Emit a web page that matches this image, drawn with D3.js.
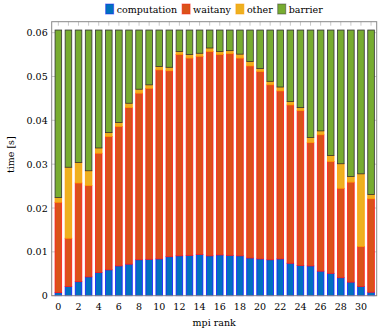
<!DOCTYPE html>
<html>
<head>
<meta charset="utf-8">
<script src="https://cdn.jsdelivr.net/npm/d3@7"></script>
<style>
  body { margin: 0; background: #fff; }
  svg text { font-family: "DejaVu Serif", serif; }
</style>
</head>
<body>
<svg id="chart" width="379" height="332"></svg>
<script>
// values, one entry per mpi rank
var ranks = d3.range(0, 32);
var computation = [0.0007, 0.0021, 0.0032, 0.0043, 0.0053, 0.0059, 0.0068, 0.0072, 0.0082, 0.0083,
  0.0084, 0.0089, 0.0091, 0.0092, 0.0094, 0.0091, 0.0093, 0.0092, 0.0091, 0.0086,
  0.0084, 0.0082, 0.0084, 0.0074, 0.0069, 0.0068, 0.0056, 0.0051, 0.0041, 0.0031, 0.0021, 0.0008];
// cumulative tops as read, converted to segment sizes below
var waitanyTop = [0.0213, 0.0131, 0.0257, 0.0251, 0.0325, 0.0363, 0.0386, 0.0429, 0.0462, 0.0473,
  0.0515, 0.0513, 0.0550, 0.0542, 0.0546, 0.0557, 0.0550, 0.0552, 0.0542, 0.0524,
  0.0511, 0.0481, 0.0467, 0.0435, 0.0422, 0.0349, 0.0367, 0.0306, 0.0245, 0.0259, 0.0112, 0.0221];
var otherTop = [0.0224, 0.0293, 0.0304, 0.0285, 0.0337, 0.0372, 0.0395, 0.0439, 0.0471, 0.0481,
  0.0523, 0.0521, 0.0557, 0.0550, 0.0553, 0.0565, 0.0557, 0.0559, 0.0551, 0.0534,
  0.0518, 0.0489, 0.0476, 0.0443, 0.0429, 0.0361, 0.0376, 0.0320, 0.0301, 0.0272, 0.0278, 0.0231];
var totalTime = 0.0606;

var seriesNames = ["computation", "waitany", "other", "barrier"];
var fills = ["#0072BD", "#D95319", "#EDB120", "#77AC30"];
var strokes = ["#1a1aff", "#ff1a1a", "#ff9900", "#333333"];
var yTicks = [0, 0.01, 0.02, 0.03, 0.04, 0.05, 0.06];
var xTicks = d3.range(0, 32, 2);

var rows = ranks.map(function (r, i) {
  return {
    rank: r,
    computation: computation[i],
    waitany: waitanyTop[i] - computation[i],
    other: otherTop[i] - waitanyTop[i],
    barrier: totalTime - otherTop[i]
  };
});

var svg = d3.select("#chart");
var plotL = 51.7, plotR = 376.7, plotT = 21.7, plotB = 295.7;

var x = d3.scaleLinear().domain([-0.66, 31.56]).range([plotL, plotR]);
var y = d3.scaleLinear().domain([0, 0.0625]).range([plotB, plotT]);
var barW = 6.6;

var stack = d3.stack().keys(seriesNames)(rows);

// ticks pointing inwards on all four sides
var tickCol = "#bbbbbb";
svg.append("g").selectAll("line").data(d3.range(0, 32)).enter().append("line")
  .attr("x1", function (d) { return x(d); }).attr("x2", function (d) { return x(d); })
  .attr("y1", plotT).attr("y2", plotT + 4)
  .attr("stroke", tickCol).attr("stroke-width", 0.8);
svg.append("g").selectAll("line").data(d3.range(0, 32)).enter().append("line")
  .attr("x1", function (d) { return x(d); }).attr("x2", function (d) { return x(d); })
  .attr("y1", plotB).attr("y2", plotB - 4)
  .attr("stroke", tickCol).attr("stroke-width", 0.8);
svg.append("g").selectAll("line").data(yTicks).enter().append("line")
  .attr("x1", plotR).attr("x2", plotR - 4)
  .attr("y1", function (d) { return y(d); }).attr("y2", function (d) { return y(d); })
  .attr("stroke", tickCol).attr("stroke-width", 0.8);
svg.append("g").selectAll("line").data(yTicks).enter().append("line")
  .attr("x1", plotL).attr("x2", plotL + 4)
  .attr("y1", function (d) { return y(d); }).attr("y2", function (d) { return y(d); })
  .attr("stroke", tickCol).attr("stroke-width", 0.8);

// bars
svg.append("g").selectAll("g").data(stack).enter().append("g")
  .attr("fill", function (d, i) { return fills[i]; })
  .attr("stroke", function (d, i) { return strokes[i]; })
  .attr("stroke-width", 0.8)
  .selectAll("rect").data(function (d) { return d; }).enter().append("rect")
  .attr("x", function (d) { return x(d.data.rank) - barW / 2; })
  .attr("width", barW)
  .attr("y", function (d) { return y(d[1]); })
  .attr("height", function (d) { return Math.max(0, y(d[0]) - y(d[1])); });

// frame
svg.append("rect").attr("x", plotL).attr("y", plotT)
  .attr("width", plotR - plotL).attr("height", plotB - plotT)
  .attr("fill", "none").attr("stroke", "#888888").attr("stroke-width", 1);

// tick labels
svg.append("g").selectAll("text").data(xTicks).enter().append("text")
  .attr("x", function (d) { return x(d); }).attr("y", plotB + 14)
  .attr("text-anchor", "middle").attr("font-size", 9.5)
  .text(function (d) { return d; });
svg.append("g").selectAll("text").data(yTicks).enter().append("text")
  .attr("x", plotL - 4).attr("y", function (d) { return y(d) + 3.5; })
  .attr("text-anchor", "end").attr("font-size", 9.5)
  .text(function (d) { return d === 0 ? "0" : d3.format(".2f")(d); });

// axis labels
svg.append("text").attr("x", (plotL + plotR) / 2).attr("y", 326)
  .attr("text-anchor", "middle").attr("font-size", 9.5).text("mpi rank");
svg.append("text").attr("transform", "translate(14," + ((plotT + plotB) / 2 - 4) + ") rotate(-90)")
  .attr("text-anchor", "middle").attr("font-size", 9.5).text("time [s]");

// legend, laid out in a row and centred over the plot
var leg = svg.append("g");
var items = leg.selectAll("g").data(seriesNames).enter().append("g");
items.append("rect").attr("width", 8).attr("height", 10)
  .attr("fill", function (d, i) { return fills[i]; })
  .attr("stroke", function (d, i) { return strokes[i]; })
  .attr("stroke-opacity", 0.5).attr("stroke-width", 1);
items.append("text").attr("x", 11).attr("y", 9).attr("font-size", 9.5)
  .text(function (d) { return d; });
var cursor = 0;
items.each(function () {
  var w = 11 + this.querySelector("text").getComputedTextLength();
  d3.select(this).attr("transform", "translate(" + cursor + ",0)");
  cursor += w + 5;
});
var legW = cursor - 5;
leg.attr("transform", "translate(" + ((plotL + plotR) / 2 - legW / 2) + ",4)");
</script>
</body>
</html>
